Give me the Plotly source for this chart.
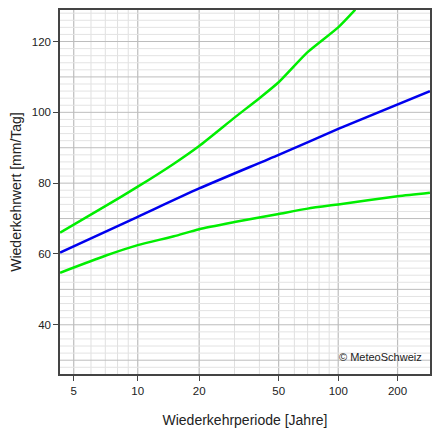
import numpy as np
import plotly.graph_objects as go

# return period T (years) and values (mm/Tag)
t_blue = [4.34, 10, 20, 50, 100, 292]
v_blue = [60.4, 70.5, 78.5, 88.0, 95.3, 106.0]
t_upper = [4.34, 7, 10, 15, 20, 30, 40, 50, 70, 100, 122]
v_upper = [66.0, 73.5, 79.0, 85.5, 90.5, 98.5, 104.0, 108.5, 117.0, 124.0, 129.0]
t_lower = [4.34, 7, 10, 15, 20, 30, 50, 70, 100, 200, 292]
v_lower = [54.7, 59.5, 62.5, 65.0, 67.0, 69.0, 71.3, 72.8, 74.0, 76.3, 77.3]
tick_T = [5, 10, 20, 50, 100, 200]
minor_T = [6, 7, 8, 9, 30, 40, 60, 70, 80, 90]


def gumbel(t):
    t = np.asarray(t, dtype=float)
    return -np.log(-np.log(1 - 1 / t))


fig = go.Figure()
for t, v, c in [(t_upper, v_upper, "#00ee00"), (t_lower, v_lower, "#00ee00"), (t_blue, v_blue, "#0000ee")]:
    fig.add_trace(go.Scatter(x=gumbel(t), y=v, mode="lines", line=dict(color=c, width=2.5, shape="spline", smoothing=0.6),
                             showlegend=False, hoverinfo="skip"))

shapes = []
for t in minor_T:
    shapes.append(dict(type="line", xref="x", yref="paper", x0=gumbel(t), x1=gumbel(t), y0=0, y1=1,
                       line=dict(color="#e0e0e0", width=1), layer="below"))
for t in tick_T:
    shapes.append(dict(type="line", xref="x", yref="paper", x0=gumbel(t), x1=gumbel(t), y0=0, y1=1,
                       line=dict(color="#bdbdbd", width=1.2), layer="below"))
for y in range(28, 130, 2):
    col = "#bdbdbd" if y % 10 == 0 else "#e3e3e3"
    shapes.append(dict(type="line", xref="paper", yref="y", x0=0, x1=1, y0=y, y1=y,
                       line=dict(color=col, width=1), layer="below"))

font = dict(family="Liberation Sans, Arial", size=11.5, color="#222")
fig.update_layout(
    width=432, height=428, margin=dict(l=52, r=10, t=0, b=62),
    plot_bgcolor="white", paper_bgcolor="white", font=font, shapes=shapes,
    xaxis=dict(range=[1.339, 5.676], tickvals=gumbel(tick_T), ticktext=[str(t) for t in tick_T],
               showgrid=False, zeroline=False, ticks="outside", ticklen=5, tickcolor="#444",
               showline=True, linecolor="#444", linewidth=1.5, mirror=True,
               title=dict(text="Wiederkehrperiode [Jahre]", standoff=20)),
    yaxis=dict(range=[26.1, 128.9], tickvals=[40, 60, 80, 100, 120],
               showgrid=False, zeroline=False, ticks="outside", ticklen=5, tickcolor="#444",
               showline=True, linecolor="#444", linewidth=1.5, mirror=True,
               title=dict(text="Wiederkehrwert [mm/Tag]", standoff=8)),
    annotations=[dict(text="© MeteoSchweiz", xref="paper", yref="paper", x=0.985, y=0.025,
                      xanchor="right", yanchor="bottom", showarrow=False, font=dict(size=11, color="#222"))],
)
fig.write_html("out.html")
